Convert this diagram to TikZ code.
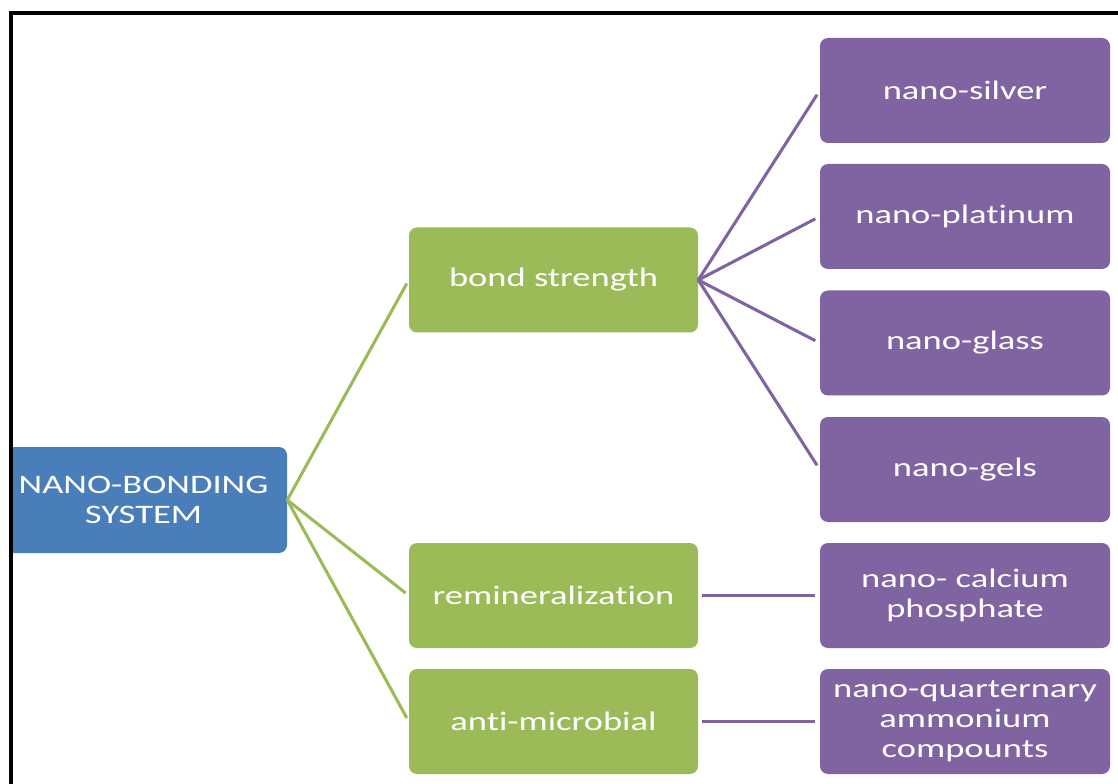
\documentclass[tikz,border=0pt]{standalone}
\usepackage{fontspec}
\setmainfont{Carlito}[FakeStretch=1.37,Ligatures={NoCommon}]
\definecolor{cblue}{HTML}{4A7EBB}
\definecolor{cgreen}{HTML}{9BBB59}
\definecolor{cpurple}{HTML}{8064A2}
\begin{document}
\begin{tikzpicture}[x=0.75pt,y=-0.75pt,
  box/.style={rounded corners=6pt, inner sep=0pt, align=center, text=white,
    font=\fontsize{20}{22.5}\selectfont, minimum height=78.75pt},
  sysbox/.style={box, fill=cblue, minimum width=215.25pt, minimum height=79.5pt},
  gbox/.style={box, fill=cgreen, minimum width=216.75pt},
  pbox/.style={box, fill=cpurple, minimum width=217.5pt},
  gline/.style={draw=cgreen, line width=2.3pt, shorten >=3pt},
  pline/.style={draw=cpurple, line width=2.3pt, shorten >=3.75pt},
  frame/.style={draw=black, line width=3pt}]
\useasboundingbox (0,0) rectangle (1118,784);
\clip (0,0) rectangle (1118,784);
\fill[white] (0,0) rectangle (1118,784);

\node[sysbox] (sys) at (143.5,500) {NANO-BONDING\\SYSTEM};

\node[gbox] (bond) at (553.5,280) {bond strength};
\node[gbox] (remin) at (553.5,595.5) {remineralization};
\node[gbox] (anti) at (553.5,721.5) {anti-microbial};

\node[pbox] (silver) at (965,90.5) {nano-silver};
\node[pbox] (plat) at (965,216.5) {nano-platinum};
\node[pbox] (glass) at (965,343) {nano-glass};
\node[pbox] (gels) at (965,469.5) {nano-gels};
\node[pbox] (calc) at (965,595.5) {nano- calcium\\phosphate};
\node[pbox] (quat) at (965,721.5) {nano-quarternary\\ammonium\\compounts};

\draw[gline] (sys.east) -- (bond.west);
\draw[gline] (sys.east) -- (remin.west);
\draw[gline] (sys.east) -- (anti.west);

\draw[pline] (bond.east) -- (silver.west);
\draw[pline] (bond.east) -- (plat.west);
\draw[pline] (bond.east) -- (glass.west);
\draw[pline] (bond.east) -- (gels.west);
\draw[pline, shorten <=3pt] (remin.east) -- (calc.west);
\draw[pline, shorten <=3pt] (anti.east) -- (quat.west);

\fill[white] (0,0) rectangle (10.5,784);
\draw[frame] (10.5,900) -- (10.5,13.5) -- (1200,13.5);
\end{tikzpicture}
\end{document}
